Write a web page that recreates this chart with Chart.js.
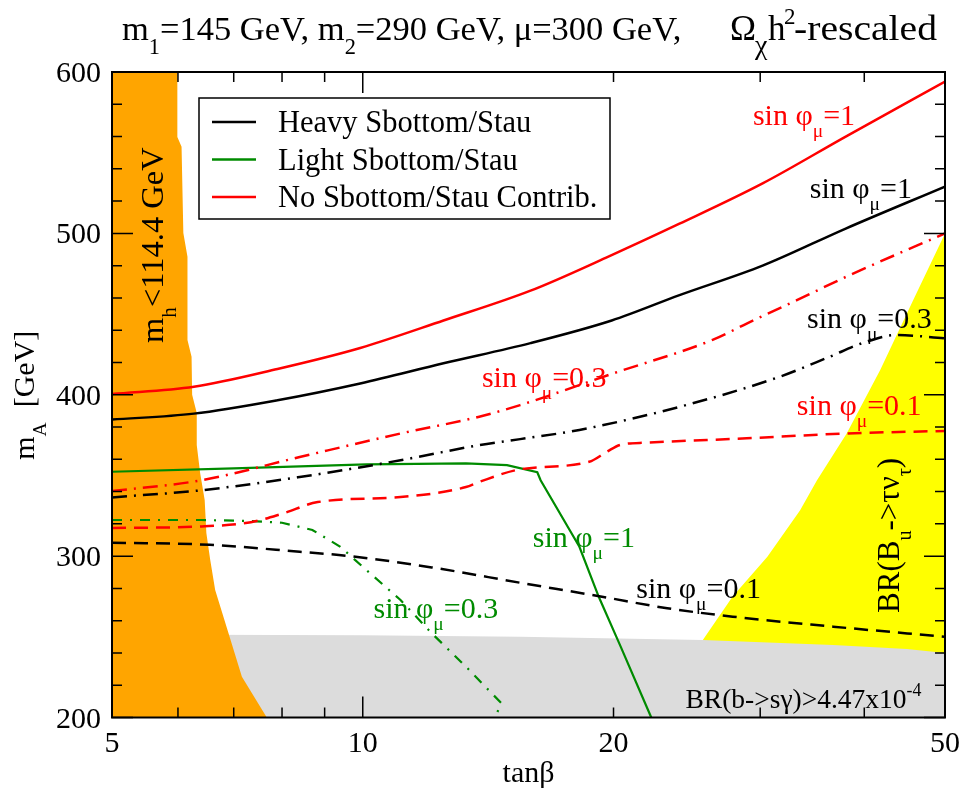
<!DOCTYPE html>
<html>
<head>
<meta charset="utf-8">
<script src="https://cdn.jsdelivr.net/npm/chart.js@4.4.0/dist/chart.umd.min.js"></script>
<style>
  body { margin: 0; background: #fff; }
  #wrap { width: 960px; height: 796px; }
</style>
</head>
<body>
<div id="wrap"><canvas id="chart" width="960" height="796"></canvas></div>
<script>
// m_A versus tan(beta)
const heavy1Tan = [5, 6.27, 7.9, 9.93, 12.5, 15.9, 19.9, 24, 30.2, 38, 50];
const heavy1Mass = [384.6, 388.3, 396.6, 407, 419.5, 432, 446, 461.7, 480, 503, 529];
const heavy03Tan = [5, 6.4, 8.4, 11.1, 13.8, 15.45, 18.2, 24, 31.6, 36.3, 39.8, 43.7, 50];
const heavy03Mass = [336.4, 340.8, 349, 359.4, 368.8, 372.5, 378.2, 392.5, 411, 423.4, 432, 437, 435];
const heavy01Tan = [5, 6.55, 8.4, 9.65, 12.1, 15.45, 19.3, 23.2, 27.8, 36.7, 50];
const heavy01Mass = [308.3, 307, 302.7, 300, 293, 283.5, 275, 267.7, 262.5, 256.3, 250];

const light1Tan = [5, 7, 10.1, 13.3, 14.9, 16.2, 16.35, 18.2, 19.2, 20.4, 22.2];
const light1Mass = [352.3, 354.4, 356.9, 357.5, 356.4, 352, 347, 305.8, 274.8, 243.9, 200];
const light03Tan = [5, 6.4, 7.3, 8, 8.7, 9.4, 10.1, 11.1, 12.1, 13.3, 14.66, 14.5];
const light03Mass = [322.4, 322.4, 321.8, 320.7, 316.2, 305.8, 291.4, 272.8, 252.2, 231.5, 209, 203];

const none1Tan = [5, 6.27, 7.9, 9.93, 12.5, 15.9, 19.6, 24, 30.2, 38, 50];
const none1Mass = [400.5, 405, 416, 429, 446, 464.5, 485, 506, 531, 560, 594];
const none03Tan = [5, 6.4, 8.4, 11.1, 13.8, 15.45, 20, 26.3, 29.4, 33.2, 38, 50];
const none03Mass = [340.3, 347, 361.4, 376, 386.4, 393.6, 413.3, 434, 446, 458.6, 473, 500];
const none01Tan = [5, 6.4, 7.34, 8.03, 8.83, 11.1, 13.3, 13.8, 15.45, 18.7, 19.64, 20.37, 21.9, 28.9, 38, 50];
const none01Mass = [317.4, 318.4, 321, 326.5, 333.5, 336.6, 342.8, 346, 353.8, 358.5, 364.7, 368.9, 370.3, 373, 376, 377.6];

// excluded regions
const mhTan = [5, 5, 5.99, 5.99, 6.06, 6.09, 6.16, 6.16, 6.23, 6.24, 6.32, 6.32, 6.38, 6.46, 6.49, 6.56, 6.65, 6.9, 7.16, 7.67];
const mhMass = [200, 600, 600, 559.7, 553.7, 500.2, 485.5, 433.9, 423.6, 400, 388.7, 368.9, 351.3, 334.8, 314.3, 297.6, 279, 252.2, 225.3, 200];
const bsgTan = [5, 10, 15.45, 25.6, 36.7, 45, 50];
const bsgMass = [251.5, 251, 250, 248, 245, 242.5, 240];
const btnTan = [25.6, 27.8, 30.6, 33.5, 35.1, 38.1, 41.8, 45.8, 50];
const btnMass = [248, 275, 299.6, 328.5, 347, 376, 415.3, 458.7, 500];

// axes
const xTickLabels = [5, 10, 20, 50];
const xMajorTicks = [10];
const xMinorTicks = [6, 7, 8, 9, 20, 30, 40];
const yTickLabels = [200, 300, 400, 500, 600];
const yMinorTicks = [220, 240, 260, 280, 320, 340, 360, 380, 420, 440, 460, 480, 520, 540, 560, 580];

const legendLabels = ["Heavy Sbottom/Stau", "Light Sbottom/Stau", "No Sbottom/Stau Contrib."];

const RED = "#ff0000";
const GREEN = "#008b00";
const BLACK = "#000000";
const legendColors = [BLACK, GREEN, RED];

const FONT = '"Liberation Serif", "Times New Roman", serif';

// text labels anchored in data coordinates (left end of baseline)
const notes = [
  { tan: 29.4, m: 567.2, color: RED, size: 30, parts: [["sin φ"], ["μ", "sub"], ["=1"]] },
  { tan: 34.4, m: 521.9, color: BLACK, size: 30, parts: [["sin φ"], ["μ", "sub"], ["=1"]] },
  { tan: 34.15, m: 441.4, color: BLACK, size: 30, parts: [["sin φ"], ["μ", "sub"], ["=0.3"]] },
  { tan: 13.9, m: 404.8, color: RED, size: 30, parts: [["sin φ"], ["μ", "sub"], ["=0.3"]] },
  { tan: 33.2, m: 387.5, color: RED, size: 30, parts: [["sin φ"], ["μ", "sub"], ["=0.1"]] },
  { tan: 16.0, m: 305.7, color: GREEN, size: 30, parts: [["sin φ"], ["μ", "sub"], ["=1"]] },
  { tan: 21.3, m: 274.1, color: BLACK, size: 30, parts: [["sin φ"], ["μ", "sub"], ["=0.1"]] },
  { tan: 10.3, m: 261.7, color: GREEN, size: 30, parts: [["sin φ"], ["μ", "sub"], ["=0.3"]] },
  { tan: 24.4, m: 205.9, color: BLACK, size: 27.5, parts: [["BR(b->sγ)>4.47x10"], ["-4", "sup"]] },
  { tan: 5.76, m: 432.1, color: BLACK, size: 32.5, rotate: true, parts: [["m"], ["h", "sub"], ["<114.4 GeV"]] },
  { tan: 44.0, m: 264.8, color: BLACK, size: 31, rotate: true, parts: [["BR(B"], ["u", "sub"], ["->τν"], ["τ", "sub"], [")"]] },
];

function pts(tans, masses) {
  return tans.map((t, i) => ({ x: t, y: masses[i] }));
}

function curve(tans, masses, color, width, dash, smooth) {
  return {
    data: pts(tans, masses),
    borderColor: color,
    borderWidth: width,
    borderDash: dash,
    pointRadius: 0,
    cubicInterpolationMode: smooth ? "monotone" : "default",
    tension: smooth ? 0.4 : 0,
    fill: false,
    order: 0,
  };
}

function region(tans, masses, color, order) {
  return {
    data: pts(tans, masses),
    borderColor: "rgba(0,0,0,0)",
    borderWidth: 1,
    backgroundColor: color,
    pointRadius: 0,
    tension: 0,
    fill: "start",
    order: order,
  };
}

function drawRich(ctx, parts, x, y, size) {
  let cx = x;
  for (const [t, kind] of parts) {
    const s = kind ? size * 0.65 : size;
    const dy = kind === "sub" ? size * 0.4 : kind === "sup" ? -size * 0.45 : 0;
    ctx.font = `${s}px ${FONT}`;
    ctx.fillText(t, cx, y + dy);
    cx += ctx.measureText(t).width;
  }
  return cx - x;
}

const decorations = {
  id: "decorations",
  afterDraw(chart) {
    const ctx = chart.ctx;
    const xs = chart.scales.x;
    const ys = chart.scales.y;
    const area = chart.chartArea;
    ctx.save();
    ctx.textAlign = "left";
    ctx.textBaseline = "alphabetic";

    // annotations
    for (const n of notes) {
      const px = xs.getPixelForValue(n.tan);
      const py = ys.getPixelForValue(n.m);
      ctx.fillStyle = n.color;
      if (n.rotate) {
        ctx.save();
        ctx.translate(px, py);
        ctx.rotate(-Math.PI / 2);
        drawRich(ctx, n.parts, 0, 0, n.size);
        ctx.restore();
      } else {
        drawRich(ctx, n.parts, px, py, n.size);
      }
    }

    // legend
    const lx = 199, ly = 98, lw = 411, lh = 121;
    ctx.fillStyle = "#fff";
    ctx.fillRect(lx, ly, lw, lh);
    ctx.strokeStyle = BLACK;
    ctx.lineWidth = 1.5;
    ctx.strokeRect(lx, ly, lw, lh);
    legendLabels.forEach((label, i) => {
      const rowY = 122 + i * 37.5;
      ctx.strokeStyle = legendColors[i];
      ctx.lineWidth = 2.5;
      ctx.beginPath();
      ctx.moveTo(212, rowY);
      ctx.lineTo(256, rowY);
      ctx.stroke();
      ctx.fillStyle = BLACK;
      ctx.font = `30.5px ${FONT}`;
      ctx.fillText(label, 278, rowY + 10);
    });

    // ticks (inward, on all four sides)
    ctx.strokeStyle = BLACK;
    ctx.lineWidth = 1.5;
    ctx.beginPath();
    const xTick = (v, len) => {
      const px = xs.getPixelForValue(v);
      ctx.moveTo(px, area.bottom); ctx.lineTo(px, area.bottom - len);
      ctx.moveTo(px, area.top); ctx.lineTo(px, area.top + len);
    };
    const yTick = (v, len) => {
      const py = ys.getPixelForValue(v);
      ctx.moveTo(area.left, py); ctx.lineTo(area.left + len, py);
      ctx.moveTo(area.right, py); ctx.lineTo(area.right - len, py);
    };
    xMajorTicks.forEach((v) => xTick(v, 21));
    xMinorTicks.forEach((v) => xTick(v, 10));
    yTickLabels.forEach((v) => yTick(v, 21));
    yMinorTicks.forEach((v) => yTick(v, 10));
    ctx.stroke();

    // frame
    ctx.lineWidth = 2;
    ctx.strokeRect(area.left, area.top, area.right - area.left, area.bottom - area.top);

    // tick labels
    ctx.fillStyle = BLACK;
    ctx.font = `30px ${FONT}`;
    ctx.textAlign = "center";
    xTickLabels.forEach((v) => ctx.fillText(String(v), xs.getPixelForValue(v), area.bottom + 34));
    ctx.textAlign = "right";
    yTickLabels.forEach((v) => ctx.fillText(String(v), area.left - 11, ys.getPixelForValue(v) + 10));

    // axis titles
    ctx.textAlign = "center";
    ctx.fillText("tanβ", (area.left + area.right) / 2, 782);
    ctx.textAlign = "left";
    ctx.save();
    ctx.translate(34, (area.top + area.bottom) / 2 + 65);
    ctx.rotate(-Math.PI / 2);
    drawRich(ctx, [["m"], ["A", "sub"], ["  [GeV]"]], 0, 0, 30);
    ctx.restore();

    // title
    drawRich(ctx, [["m"], ["1", "sub"], ["=145 GeV, m"], ["2", "sub"], ["=290 GeV, μ=300 GeV,"]], 122, 40, 34.5);
    ctx.font = `35px ${FONT}`;
    ctx.fillText("Ω", 730, 40);
    ctx.font = `28px ${FONT}`;
    ctx.fillText("χ", 755, 54);
    ctx.font = `35px ${FONT}`;
    ctx.fillText("h", 768, 40);
    ctx.font = `23px ${FONT}`;
    ctx.fillText("2", 784, 24);
    ctx.font = `35px ${FONT}`;
    const tail = "-rescaled";
    const tw = ctx.measureText(tail).width;
    ctx.save();
    ctx.translate(794, 40);
    ctx.scale(143 / tw, 1);
    ctx.fillText(tail, 0, 0);
    ctx.restore();
    ctx.restore();
  },
};

const datasets = [
  region(btnTan, btnMass, "#ffff00", 30),
  region(bsgTan, bsgMass, "#dcdcdc", 20),
  region(mhTan, mhMass, "#ffa500", 10),
  curve(none1Tan, none1Mass, RED, 2.5, [], true),
  curve(heavy1Tan, heavy1Mass, BLACK, 2.5, [], true),
  curve(none03Tan, none03Mass, RED, 2.5, [15, 7, 2, 7], true),
  curve(heavy03Tan, heavy03Mass, BLACK, 2.5, [15, 7, 2, 7], true),
  curve(none01Tan, none01Mass, RED, 2.5, [14, 8], true),
  curve(heavy01Tan, heavy01Mass, BLACK, 2.5, [14, 8], true),
  curve(light1Tan, light1Mass, GREEN, 2.2, [], false),
  curve(light03Tan, light03Mass, GREEN, 2.2, [10, 8, 2, 8], false),
];

new Chart(document.getElementById("chart").getContext("2d"), {
  type: "line",
  data: { datasets },
  options: {
    responsive: false,
    animation: false,
    devicePixelRatio: 1,
    layout: { padding: { left: 112, right: 15, top: 72, bottom: 78.5 } },
    plugins: {
      legend: { display: false },
      tooltip: { enabled: false },
    },
    scales: {
      x: { type: "logarithmic", min: 5, max: 50, display: false },
      y: { type: "linear", min: 200, max: 600, display: false },
    },
  },
  plugins: [decorations],
});
</script>
</body>
</html>
